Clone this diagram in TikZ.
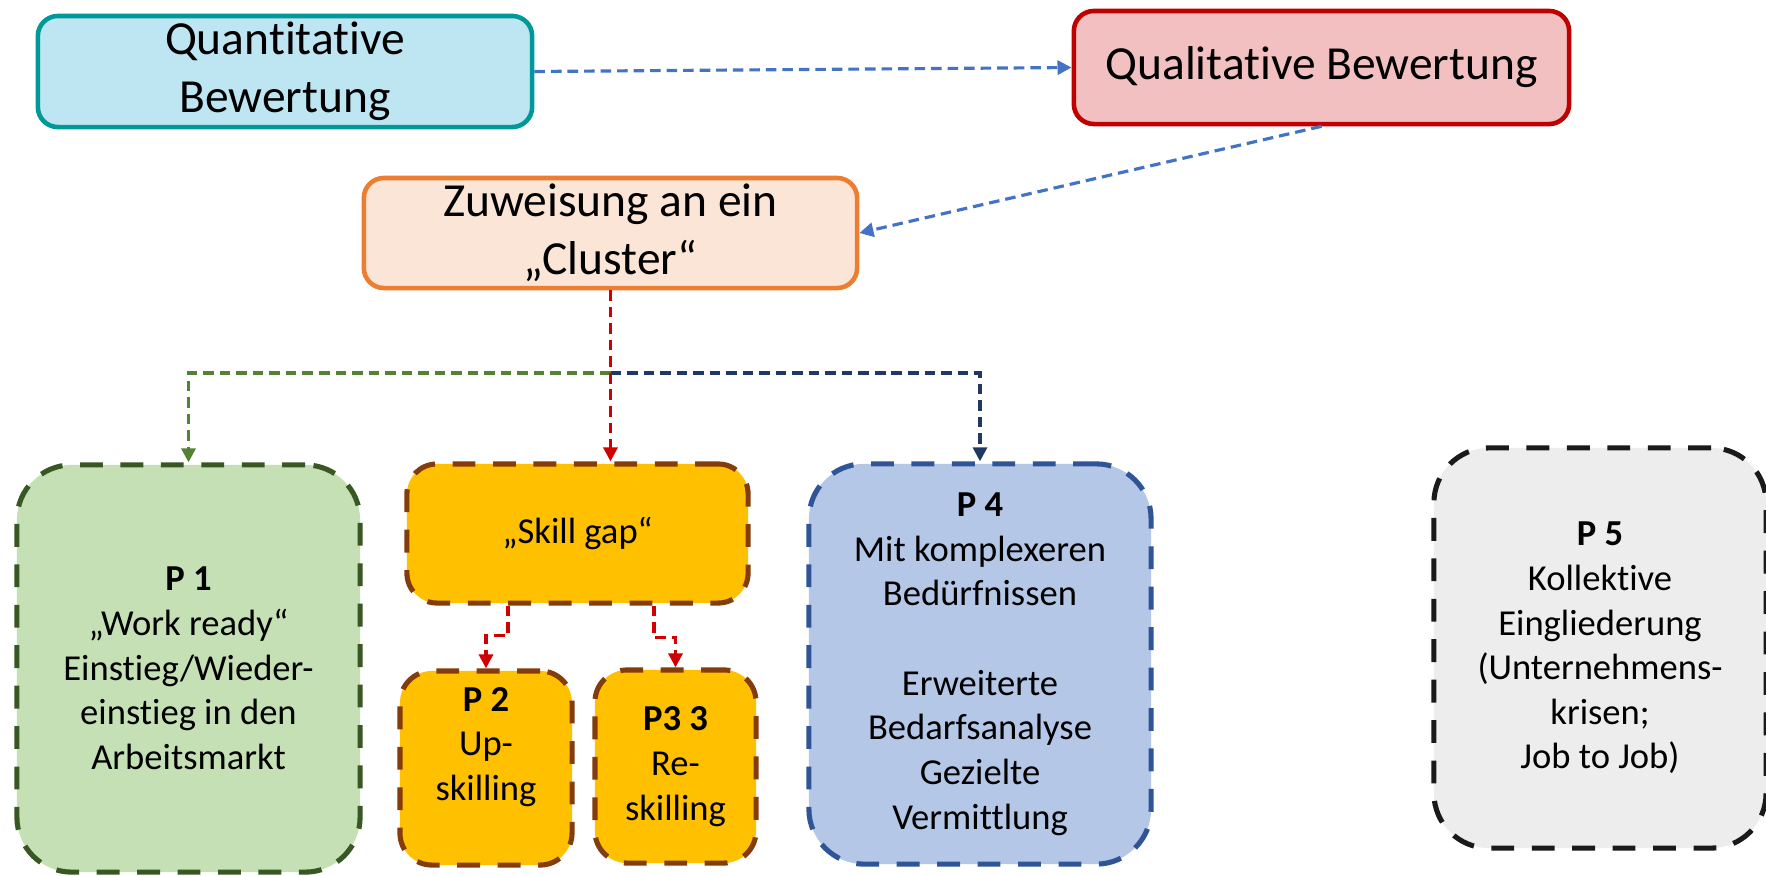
\documentclass[tikz,border=0pt]{standalone}
\usepackage{fontspec}
\setmainfont{Carlito}[Ligatures={NoCommon}]
\usetikzlibrary{arrows.meta}

\definecolor{quantfill}{RGB}{190,229,242}
\definecolor{quantline}{RGB}{0,153,153}
\definecolor{qualfill}{RGB}{242,192,192}
\definecolor{qualline}{RGB}{192,0,0}
\definecolor{clusterfill}{RGB}{251,229,214}
\definecolor{clusterline}{RGB}{237,125,49}
\definecolor{flowblue}{RGB}{68,114,196}
\definecolor{flowred}{RGB}{208,0,0}
\definecolor{flowgreen}{RGB}{84,130,53}
\definecolor{flownavy}{RGB}{32,56,100}
\definecolor{greenfill}{RGB}{197,224,180}
\definecolor{greenline}{RGB}{56,87,35}
\definecolor{gapfill}{RGB}{255,192,0}
\definecolor{gapline}{RGB}{132,60,12}
\definecolor{bluefill}{RGB}{180,199,231}
\definecolor{blueline}{RGB}{47,85,151}
\definecolor{greyfill}{RGB}{237,237,237}
\definecolor{greyline}{RGB}{26,26,26}

\begin{document}
\begin{tikzpicture}[x=0.01cm, y=-0.01cm,
    >={Triangle[length=4pt,width=4pt]},
    topbox/.style={draw, line width=1.3pt, rounded corners=0.2cm, inner sep=0pt,
        align=center, font=\fontsize{13.5}{16.5}\selectfont},
    pbox/.style={draw, line width=1.45pt, dash pattern=on 6.5pt off 5pt, inner sep=0pt,
        align=center, font=\fontsize{10.4}{12.7}\selectfont},
    flow/.style={->, line width=0.9pt, dash pattern=on 3pt off 1.7pt}]
    \fill [white] (0,0) rectangle (1766,875);
    \useasboundingbox (0,0) rectangle (1766,875);

    % Bewertung and Cluster
    \node [topbox, fill=quantfill, draw=quantline, minimum width=4.94cm, minimum height=1.11cm]
        (quant) at (285,71.5) {Quantitative\\Bewertung};
    \node [topbox, fill=qualfill, draw=qualline, minimum width=4.95cm, minimum height=1.13cm]
        (qual) at (1321.5,67.5) {Qualitative Bewertung};
    \node [topbox, fill=clusterfill, draw=clusterline, minimum width=4.93cm, minimum height=1.10cm]
        (cluster) at (610.5,233) {Zuweisung an ein\\„Cluster“};

    % Pfade P1 bis P5
    \node [pbox, fill=greenfill, draw=greenline, rounded corners=0.55cm,
        minimum width=3.43cm, minimum height=4.07cm] (p1) at (188.5,668.5)
        {\textbf{P 1}\\„Work ready“\\Einstieg/Wieder-\\einstieg in den\\Arbeitsmarkt};
    \node [pbox, fill=gapfill, draw=gapline, rounded corners=0.3cm,
        minimum width=3.41cm, minimum height=1.39cm] (skill) at (577.5,533.5) {„Skill gap“};
    \node [pbox, fill=gapfill, draw=gapline, rounded corners=0.32cm,
        minimum width=1.72cm, minimum height=1.94cm] (p2) at (486,768) {};
    \node [pbox, draw=none, fill=none] (p2text) at (486,747) {\textbf{P 2}\\Up-\\skilling};
    \node [pbox, fill=gapfill, draw=gapline, rounded corners=0.32cm,
        minimum width=1.61cm, minimum height=1.93cm] (p3) at (675.5,766.5)
        {\textbf{P3 3}\\Re-\\skilling};
    \node [pbox, fill=bluefill, draw=blueline, rounded corners=0.55cm,
        minimum width=3.42cm, minimum height=4.00cm] (p4) at (980,664)
        {\textbf{P 4}\\Mit komplexeren\\Bedürfnissen\\[12.7pt]Erweiterte\\Bedarfsanalyse\\Gezielte\\Vermittlung};
    \node [pbox, fill=greyfill, draw=greyline, rounded corners=0.55cm,
        minimum width=3.32cm, minimum height=4.00cm] (p5) at (1600,648)
        {\textbf{P 5}\\Kollektive\\Eingliederung\\(Unternehmens-\\krisen;\\Job to Job)};

    % Verbindungen
    \coordinate (split) at (610.5,373);
    \draw [flow, flowblue] (quant.east) -- (qual.west);
    \draw [flow, flowblue] (qual.south) -- (cluster.east);
    \draw [flow, flowgreen] (split) -| (p1.north);
    \draw [flow, flownavy] (split) -| (p4.north);
    \draw [flow, flowred] (cluster.south) -- (cluster.south |- skill.north);
    \draw [flow, flowred] ([xshift=-0.695cm]skill.south) -- ++(0,30) -| (p2.north);
    \draw [flow, flowred] ([xshift=0.765cm]skill.south) -- ++(0,32) -| (p3.north);
\end{tikzpicture}
\end{document}
